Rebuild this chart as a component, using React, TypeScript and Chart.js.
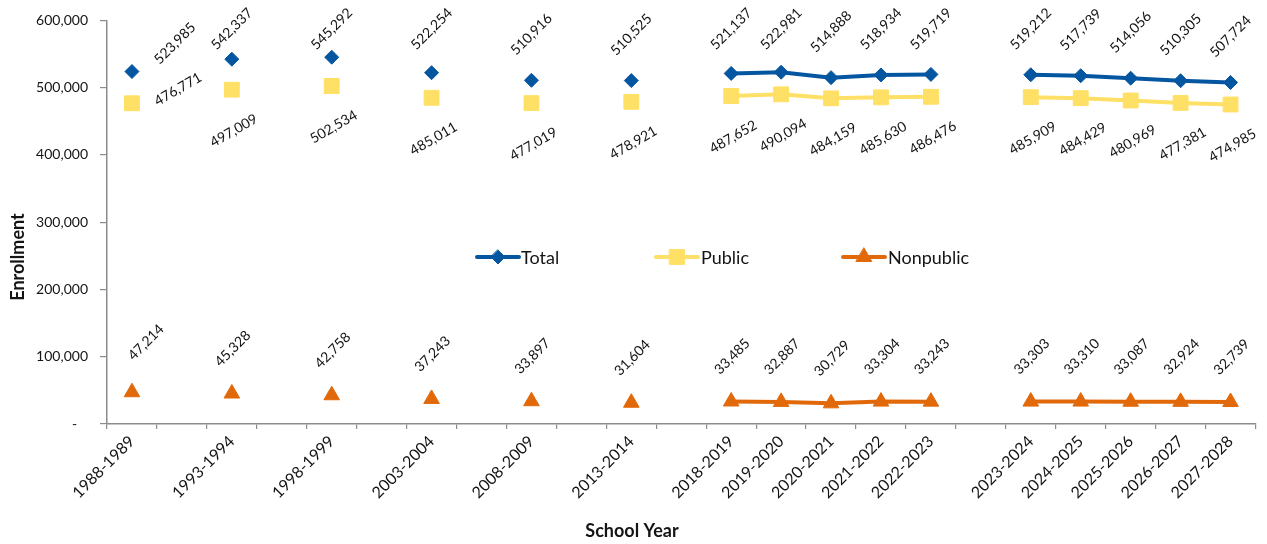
import React, { useEffect, useRef } from "react";
import { Chart, registerables } from "chart.js";

Chart.register(...registerables);

const categories: string[] = [
  "1988-1989", "", "1993-1994", "", "1998-1999", "", "2003-2004", "", "2008-2009", "", "2013-2014", "",
  "2018-2019", "2019-2020", "2020-2021", "2021-2022", "2022-2023", "",
  "2023-2024", "2024-2025", "2025-2026", "2026-2027", "2027-2028",
];

const totalValues: (number | null)[] = [
  523985, null, 542337, null, 545292, null, 522254, null, 510916, null, 510525, null,
  521137, 522981, 514888, 518934, 519719, null,
  519212, 517739, 514056, 510305, 507724,
];

const publicValues: (number | null)[] = [
  476771, null, 497009, null, 502534, null, 485011, null, 477019, null, 478921, null,
  487652, 490094, 484159, 485630, 486476, null,
  485909, 484429, 480969, 477381, 474985,
];

const nonpublicValues: (number | null)[] = [
  47214, null, 45328, null, 42758, null, 37243, null, 33897, null, 31604, null,
  33485, 32887, 30729, 33304, 33243, null,
  33303, 33310, 33087, 32924, 32739,
];

const seriesNames = ["Total", "Public", "Nonpublic"];
const yTickValues = [0, 100000, 200000, 300000, 400000, 500000, 600000];

const FONT = "Lato, 'Open Sans', sans-serif";
const BLUE = "#0556A1";
const YELLOW = "#FFE066";
const ORANGE = "#E2690A";
const AXIS = "#8C8C8C";
const TEXT = "#141414";

const fmt = (v: number) => v.toLocaleString("en-US");

const labelCfg = [
  { dx: 0, dy: -46, minY: 29, rot: -Math.PI / 4, firstDx: 43, firstDy: -28 },
  { dx: 2, dy: 41, minY: null as number | null, rot: -Math.PI / 6, firstDx: 46, firstDy: -14 },
  { dx: 1, dy: -45, minY: null as number | null, rot: -Math.PI / 4, firstDx: 14, firstDy: -50 },
];

const valueLabelPlugin = {
  id: "valueLabels",
  afterDatasetsDraw(chart: any) {
    const ctx = chart.ctx;
    ctx.save();
    ctx.fillStyle = TEXT;
    ctx.font = `14px ${FONT}`;
    ctx.textAlign = "center";
    ctx.textBaseline = "middle";
    chart.data.datasets.forEach((ds: any, di: number) => {
      const meta = chart.getDatasetMeta(di);
      const cfg = labelCfg[di];
      meta.data.forEach((pt: any, i: number) => {
        const v = ds.data[i];
        if (v == null) return;
        const dx = i === 0 ? cfg.firstDx : cfg.dx;
        const dy = i === 0 ? cfg.firstDy : cfg.dy;
        const cx = pt.x + dx;
        let cy = pt.y + dy;
        if (cfg.minY != null && i !== 0) cy = Math.max(cfg.minY, cy);
        ctx.save();
        ctx.translate(cx, cy);
        ctx.rotate(cfg.rot);
        ctx.fillText(fmt(v), 0, 0);
        ctx.restore();
      });
    });
    ctx.restore();
  },
};

const legendItems = [
  { x0: 477, x1: 519, tx: 521 },
  { x0: 656, x1: 698, tx: 701 },
  { x0: 843, x1: 885, tx: 888 },
];

const overlayPlugin = {
  id: "overlay",
  afterDraw(chart: any) {
    const ctx = chart.ctx;
    ctx.save();
    const ly = 257;
    chart.data.datasets.forEach((ds: any, di: number) => {
      const it = legendItems[di];
      ctx.strokeStyle = ds.borderColor;
      ctx.lineWidth = 4;
      ctx.lineCap = "round";
      ctx.beginPath();
      ctx.moveTo(it.x0, ly);
      ctx.lineTo(it.x1, ly);
      ctx.stroke();
      ctx.fillStyle = ds.pointBackgroundColor;
      ctx.strokeStyle = ds.pointBorderColor;
      ctx.lineWidth = 1;
      const mx = (it.x0 + it.x1) / 2;
      const r = ds.pointRadius;
      ctx.beginPath();
      if (ds.pointStyle === "rectRot") {
        ctx.moveTo(mx, ly - r);
        ctx.lineTo(mx + r, ly);
        ctx.lineTo(mx, ly + r);
        ctx.lineTo(mx - r, ly);
      } else if (ds.pointStyle === "rect") {
        const s = Math.SQRT1_2 * r;
        ctx.rect(mx - s, ly - s, 2 * s, 2 * s);
      } else {
        ctx.moveTo(mx, ly - r);
        ctx.lineTo(mx + r * Math.sin(Math.PI / 3), ly + r / 2);
        ctx.lineTo(mx - r * Math.sin(Math.PI / 3), ly + r / 2);
      }
      ctx.closePath();
      ctx.fill();
      ctx.stroke();
      ctx.fillStyle = TEXT;
      ctx.font = `18px ${FONT}`;
      ctx.textAlign = "left";
      ctx.textBaseline = "middle";
      ctx.fillText(ds.label, it.tx, ly + 1);
    });
    ctx.fillStyle = TEXT;
    ctx.font = `bold 18px ${FONT}`;
    ctx.textAlign = "center";
    ctx.textBaseline = "middle";
    ctx.fillText("School Year", 632, 531);
    ctx.save();
    ctx.translate(18, 257);
    ctx.rotate(-Math.PI / 2);
    ctx.fillText("Enrollment", 0, 0);
    ctx.restore();
    ctx.restore();
  },
};

export default function App() {
  const ref = useRef<HTMLCanvasElement | null>(null);
  useEffect(() => {
    if (!ref.current) return;
    const mk = (label: string, data: (number | null)[], color: string, style: string, radius: number) => ({
      label,
      data,
      borderColor: color,
      backgroundColor: color,
      pointBackgroundColor: color,
      pointBorderColor: color,
      pointBorderWidth: 1,
      pointStyle: style,
      pointRadius: radius,
      pointHoverRadius: radius,
      borderWidth: 4,
      spanGaps: false,
      tension: 0,
    });
    const chart = new Chart(ref.current, {
      type: "line",
      data: {
        labels: categories,
        datasets: [
          mk(seriesNames[0], totalValues, BLUE, "rectRot", 7),
          mk(seriesNames[1], publicValues, YELLOW, "rect", 10.5),
          mk(seriesNames[2], nonpublicValues, ORANGE, "triangle", 9),
        ] as any,
      },
      options: {
        animation: false,
        responsive: false,
        layout: { padding: { top: 20, right: 10, left: 0, bottom: 0 } },
        plugins: {
          legend: { display: false },
          tooltip: { enabled: false },
          title: { display: false },
        },
        scales: {
          x: {
            offset: true,
            grid: { offset: true, drawOnChartArea: false, tickLength: 5, color: AXIS, lineWidth: 1.2 },
            border: { color: AXIS, width: 1.5 },
            ticks: {
              autoSkip: false,
              maxRotation: 45,
              minRotation: 45,
              padding: 3,
              color: TEXT,
              font: { family: FONT, size: 16 },
            },
            afterFit: (s: any) => {
              s.height = 120;
            },
          },
          y: {
            min: 0,
            max: 600000,
            afterBuildTicks: (s: any) => {
              s.ticks = yTickValues.map((v) => ({ value: v }));
            },
            grid: { drawOnChartArea: false, tickLength: 7, color: AXIS, lineWidth: 1.2 },
            border: { color: AXIS, width: 1.5 },
            ticks: {
              padding: 12,
              color: TEXT,
              font: { family: FONT, size: 14 },
              callback: (v: any) => (Number(v) === 0 ? "-   " : fmt(Number(v))),
            },
            afterFit: (s: any) => {
              s.width = 107;
            },
          },
        },
      } as any,
      plugins: [valueLabelPlugin, overlayPlugin],
    });
    return () => chart.destroy();
  }, []);
  return (
    <div style={{ position: "fixed", left: 0, top: 0, width: 1267, height: 544, background: "#fff" }}>
      <canvas ref={ref} width={1267} height={544} style={{ display: "block" }} />
    </div>
  );
}
